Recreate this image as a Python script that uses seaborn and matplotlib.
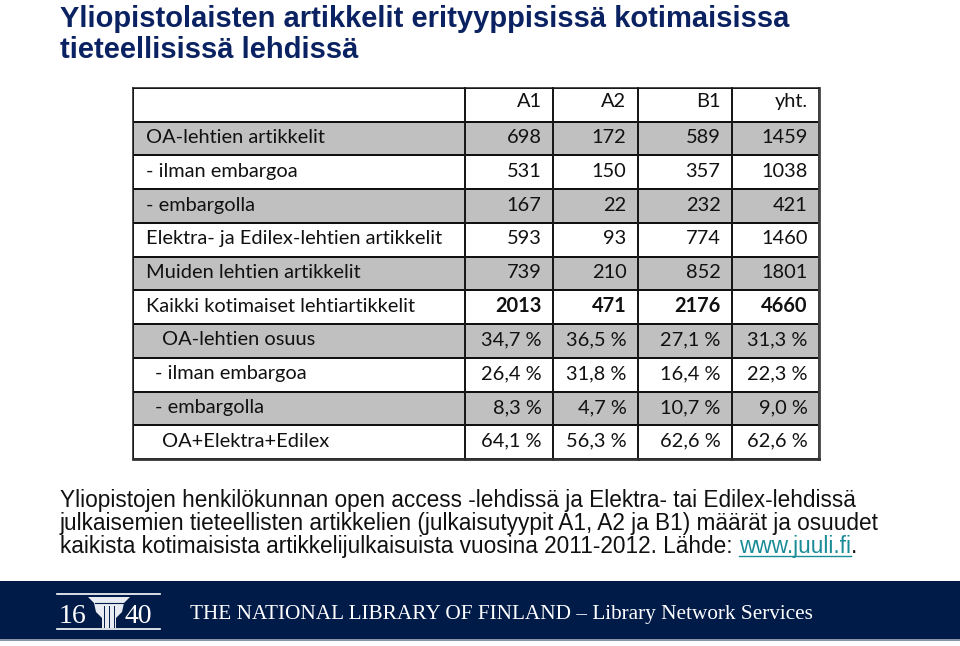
import numpy as np
import pandas as pd
import matplotlib
matplotlib.use("Agg")
import matplotlib.pyplot as plt
import seaborn as sns
from matplotlib.colors import ListedColormap
from matplotlib.lines import Line2D
from matplotlib.patches import Rectangle, Polygon

# ---------------- data ----------------
columns = ["A1", "A2", "B1", "yht."]
row_labels = [
    "OA-lehtien artikkelit",
    "- ilman embargoa",
    "- embargolla",
    "Elektra- ja Edilex-lehtien artikkelit",
    "Muiden lehtien artikkelit",
    "Kaikki kotimaiset lehtiartikkelit",
    "OA-lehtien osuus",
    "- ilman embargoa",
    "- embargolla",
    "OA+Elektra+Edilex",
]
count_a1 = [698, 531, 167, 593, 739, 2013]
count_a2 = [172, 150, 22, 93, 210, 471]
count_b1 = [589, 357, 232, 774, 852, 2176]
count_yht = [1459, 1038, 421, 1460, 1801, 4660]
share_a1 = [34.7, 26.4, 8.3, 64.1]
share_a2 = [36.5, 31.8, 4.7, 56.3]
share_b1 = [27.1, 16.4, 10.7, 62.6]
share_yht = [31.3, 22.3, 9.0, 62.6]

title_lines = ["Yliopistolaisten artikkelit erityyppisissä kotimaisissa",
               "tieteellisissä lehdissä"]
note_lines = ["Yliopistojen henkilökunnan open access -lehdissä ja Elektra- tai Edilex-lehdissä",
              "julkaisemien tieteellisten artikkelien (julkaisutyypit A1, A2 ja B1) määrät ja osuudet",
              "kaikista kotimaisista artikkelijulkaisuista vuosina 2011-2012. Lähde: "]
link_text = "www.juuli.fi"
footer_text = "THE NATIONAL LIBRARY OF FINLAND – Library Network Services"

# ---------------- build table ----------------
counts = pd.DataFrame({"A1": count_a1, "A2": count_a2, "B1": count_b1, "yht.": count_yht})
shares = pd.DataFrame({"A1": share_a1, "A2": share_a2, "B1": share_b1, "yht.": share_yht})

def fmt_pct(v):
    return f"{v:.1f}".replace(".", ",") + " %"

cell_text = [columns] + \
    [[str(v) for v in r] for r in counts.values.tolist()] + \
    [[fmt_pct(v) for v in r] for r in shares.values.tolist()]
label_text = [""] + row_labels
n_rows = len(label_text)
shade = np.array([0] + [1 if (i % 2 == 1) else 0 for i in range(1, n_rows)])

W, H = 960, 646
fig = plt.figure(figsize=(W / 100, H / 100), dpi=100)
fig.patch.set_facecolor("white")

def fx(px):
    return px / W

def fy(py):
    return 1 - py / H

tab_top, tab_bot = 88, 459
col_edges = [133, 465, 553, 638, 732, 819]

cmap = ListedColormap(["#FFFFFF", "#C0C0C0"])
tfont = "Lato"
tsize = 14.4
pt = 0.72  # points per pixel at 100 dpi
indent = [0, 13, 13, 13, 13, 13, 13, 29, 22, 22, 29]

axes = []
for c in range(5):
    ax = fig.add_axes([fx(col_edges[c]), fy(tab_bot), fx(col_edges[c + 1] - col_edges[c]),
                       (tab_bot - tab_top) / H])
    name = "label" if c == 0 else columns[c - 1]
    sns.heatmap(pd.DataFrame({name: shade}), ax=ax, cmap=cmap, vmin=0, vmax=1, cbar=False,
                linewidths=1.1, linecolor="#111111", xticklabels=False, yticklabels=False)
    for side in ("left", "right", "top", "bottom"):
        ax.spines[side].set_visible(True)
        ax.spines[side].set_color("#1a1a1a")
        ax.spines[side].set_linewidth(1.1)
    ax.spines["bottom"].set_linewidth(2.0)
    ax.spines["bottom"].set_color("#333333")
    axes.append(ax)
axes[-1].spines["right"].set_linewidth(2.0)
axes[-1].spines["right"].set_color("#444444")

for i, lab in enumerate(label_text):
    dy = 3.5 if i == 0 else 1.0
    axes[0].annotate(lab, xy=(0, i + 0.5), xytext=(indent[i] * pt, dy * pt),
                     textcoords="offset points", ha="left", va="center",
                     fontsize=tsize, family=tfont, color="#111111")

for i, row in enumerate(cell_text):
    dy = 3.5 if i == 0 else 1.0
    bold = (i == 6)
    for j, s in enumerate(row):
        axes[j + 1].annotate(s, xy=(1, i + 0.5), xytext=(-11.5 * pt, dy * pt),
                             textcoords="offset points", ha="right", va="center",
                             fontsize=tsize, family=tfont, color="#111111",
                             fontweight="bold" if bold else "normal")

# ---------------- title ----------------
navy = "#0B2262"
fig.text(fx(60), fy(27), title_lines[0], fontsize=21, fontweight="bold",
         family="Liberation Sans", color=navy, va="baseline", ha="left")
fig.text(fx(60), fy(58), title_lines[1], fontsize=21, fontweight="bold",
         family="Liberation Sans", color=navy, va="baseline", ha="left")

# ---------------- note ----------------
nsize = 16.25
base = [507, 530, 553]
for k, line in enumerate(note_lines):
    t = fig.text(fx(60), fy(base[k]), line, fontsize=nsize, family="Liberation Sans",
                 color="#111111", va="baseline", ha="left")
link = fig.text(0, 0, link_text, fontsize=nsize, family="Liberation Sans",
                color="#1A8C98", va="baseline", ha="left")
dot = fig.text(0, 0, ".", fontsize=nsize, family="Liberation Sans",
               color="#111111", va="baseline", ha="left")

# ---------------- footer ----------------
fig.patches.append(Rectangle((0, fy(639)), 1, (639 - 581) / H, transform=fig.transFigure,
                             facecolor="#011B48", edgecolor="none", zorder=0))
fig.patches.append(Rectangle((0, fy(641)), 1, 2 / H, transform=fig.transFigure,
                             facecolor="#8A96A8", edgecolor="none", zorder=0))
fig.text(fx(190), fy(619), footer_text, fontsize=15.3, family="Liberation Serif",
         color="white", va="baseline", ha="left")
# logo
for yy in (594, 629):
    fig.add_artist(Line2D([fx(57), fx(160)], [fy(yy), fy(yy)], color="white", lw=1.2))
fig.text(fx(59), fy(623), "16", fontsize=20, family="Liberation Serif", color="white",
         va="baseline", ha="left")
fig.text(fx(124), fy(623), "40", fontsize=20, family="Liberation Serif", color="white",
         va="baseline", ha="left")
cap = [(88, 597), (130, 597), (124, 603), (122, 612), (116, 618), (116, 628),
       (102, 628), (102, 618), (96, 612), (94, 603)]
fig.add_artist(Polygon([(fx(a), fy(b)) for a, b in cap], closed=True,
                       transform=fig.transFigure, facecolor="#E8ECF2", edgecolor="none"))
for xx in (104, 109, 114):
    fig.add_artist(Line2D([fx(xx), fx(xx)], [fy(606), fy(627)], color="#011B48", lw=0.7))
fig.add_artist(Line2D([fx(95), fx(123)], [fy(603), fy(603)], color="#011B48", lw=0.8))

# place link after text
fig.canvas.draw()
r = fig.canvas.get_renderer()
bb = t.get_window_extent(r)
link.set_position((bb.x1 / W, fy(base[2])))
fig.canvas.draw()
lb = link.get_window_extent(r)
dot.set_position((lb.x1 / W, fy(base[2])))
fig.add_artist(Line2D([lb.x0 / W, lb.x1 / W], [fy(base[2] + 2.5), fy(base[2] + 2.5)],
                      color="#1A8C98", lw=1.0))

fig.savefig("out.png", dpi=100, facecolor="white")
